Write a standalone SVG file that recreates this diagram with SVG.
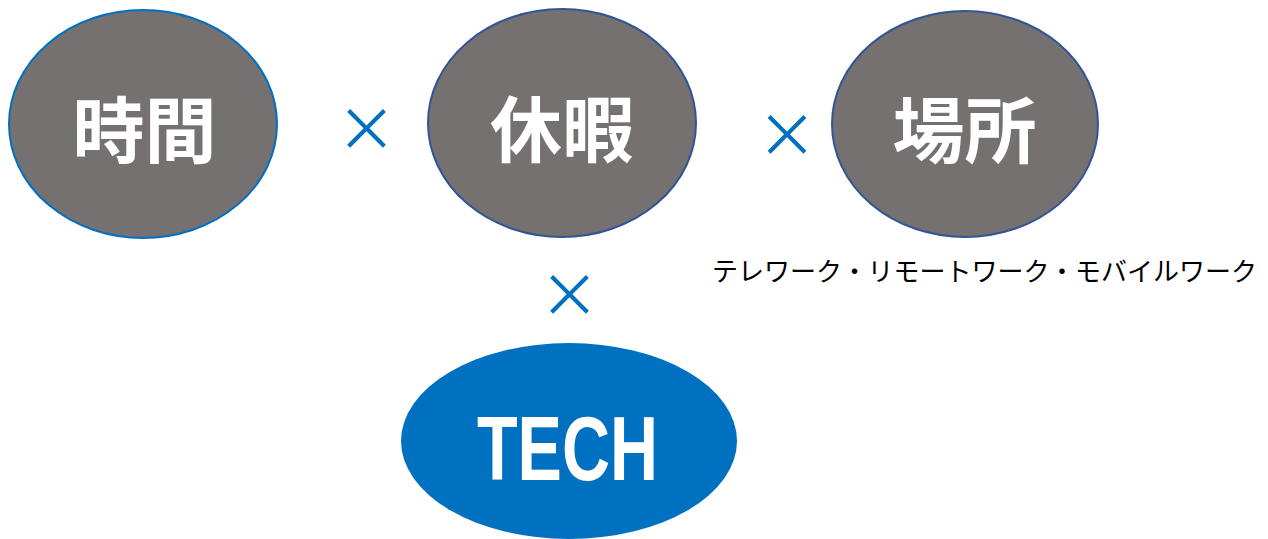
<svg xmlns="http://www.w3.org/2000/svg" width="1268" height="539" viewBox="0 0 1268 539">
<style>
.g{fill:#767171;stroke:#2F5597;stroke-width:2}
.k{font-family:"Noto Sans CJK JP","Noto Sans CJK SC",sans-serif;font-weight:bold;font-size:72px;fill:#fff;text-anchor:middle}
.x{font-family:"Noto Sans CJK JP",sans-serif;font-size:60px;fill:#0070C0;text-anchor:middle}
</style>
<rect width="1268" height="539" fill="#fff"/>
<g id="n-time">
<ellipse class="g" cx="143" cy="124" rx="134" ry="114" style="stroke:#0070C0"/>
<text class="k" x="144.5" y="157">時間</text>
</g>
<g id="n-leave">
<ellipse class="g" cx="562" cy="123" rx="134" ry="114"/>
<text class="k" x="562" y="156">休暇</text>
</g>
<g id="n-place">
<ellipse class="g" cx="965" cy="124" rx="133" ry="113"/>
<text class="k" x="964.5" y="157">場所</text>
<text x="712" y="281" style="font-family:'Noto Sans CJK JP',sans-serif;font-size:26px;fill:#000">テレワーク・リモートワーク・モバイルワーク</text>
</g>
<g id="n-tech">
<ellipse cx="569" cy="441" rx="168" ry="98" fill="#0070C0"/>
<text x="477" y="480" textLength="181" lengthAdjust="spacingAndGlyphs" style="font-family:'Liberation Sans',Arial,sans-serif;font-weight:bold;font-size:91px;fill:#fff">TECH</text>
</g>
<g id="connectors">
<text class="x" x="366.5" y="151">×</text>
<text class="x" x="787" y="157">×</text>
<text class="x" x="569.5" y="317">×</text>
</g>
</svg>
